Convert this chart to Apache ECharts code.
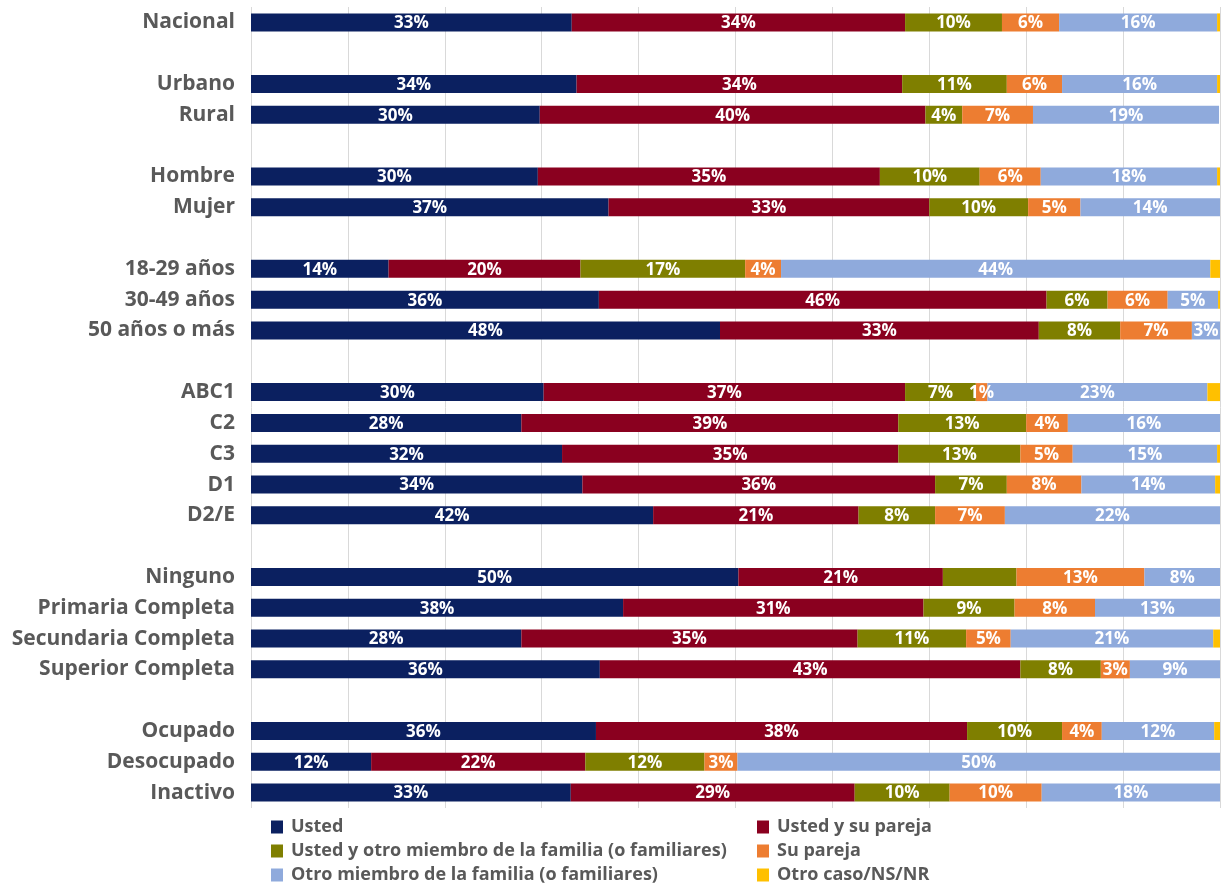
<!DOCTYPE html>
<html>
<head>
<meta charset="utf-8">
<script src="https://cdn.jsdelivr.net/npm/echarts@6/dist/echarts.min.js"></script>
<style>
html,body{margin:0;padding:0;background:#fff;}
#chart{width:1230px;height:886px;}
</style>
</head>
<body>
<div id="chart"></div>
<script>
// Categories (blank strings are spacer rows between groups)
const categories = ['Nacional',' ','Urbano','Rural','  ','Hombre','Mujer','   ','18-29 años','30-49 años','50 años o más','    ','ABC1','C2','C3','D1','D2/E','     ','Ninguno','Primaria Completa','Secundaria Completa','Superior Completa','      ','Ocupado','Desocupado','Inactivo'];

const seriesNames = ['Usted','Usted y su pareja','Usted y otro miembro de la familia (o familiares)','Su pareja','Otro miembro de la familia (o familiares)','Otro caso/NS/NR'];

// Values (%) per series, in category order (null = spacer row)
const usted         = [33.1,null,33.6,29.8,null,29.6,36.9,null,14.2,35.9,48.4,null,30.2,27.9,32.1,34.2,41.5,null,50.3,38.4,27.9,36.0,null,35.6,12.4,33.0];
const ustedPareja   = [34.4,null,33.6,39.8,null,35.3,33.1,null,19.8,46.2,32.9,null,37.3,38.9,34.7,36.4,21.2,null,21.1,31.0,34.7,43.4,null,38.3,22.1,29.3];
const ustedFamilia  = [10.0,null,10.8,3.8,null,10.3,10.2,null,17.0,6.3,8.4,null,7.3,13.2,12.6,7.4,7.9,null,7.6,9.4,11.2,8.3,null,9.8,12.3,9.8];
const suPareja      = [5.9,null,5.7,7.3,null,6.3,5.4,null,3.7,6.2,7.4,null,1.2,4.3,5.4,7.7,7.2,null,13.2,8.3,4.6,3.0,null,4.1,3.4,9.5];
const otroMiembro   = [16.3,null,16.0,19.2,null,18.2,14.4,null,44.3,5.2,2.9,null,22.7,15.7,14.9,13.8,22.2,null,7.8,12.9,20.9,9.3,null,11.6,49.8,18.4];
const otroCaso      = [0.3,null,0.3,0,null,0.4,0,null,1.0,0.2,0,null,1.3,0,0.3,0.5,0,null,0,0,0.7,0,null,0.6,0,0];

// Segments whose value label is not printed in the original
const hiddenLabels = [[2,'Ninguno']];

// Legend layout: order of items per column
const legendLeftColumn = [0, 2, 4];
const legendRightColumn = [1, 3, 5];

const colors = ['#0b2060','#8a001f','#7f7f00','#ed7d31','#8faadc','#ffc000'];
const allValues = [usted, ustedPareja, ustedFamilia, suPareja, otroMiembro, otroCaso];

const FONT = '"Open Sans", sans-serif';

const series = allValues.map((vals, si) => ({
  name: seriesNames[si],
  type: 'bar',
  stack: 'total',
  barWidth: 18,
  itemStyle: { color: colors[si] },
  label: {
    show: si < 5,
    position: 'inside',
    color: '#ffffff',
    fontFamily: FONT,
    fontWeight: 'bold',
    fontSize: 17,
    offset: [0, 1],
    formatter: p => (p.value == null ? '' : Math.round(p.value) + '%')
  },
  data: vals.map((v, ci) => {
    const hide = hiddenLabels.some(h => h[0] === si && h[1] === categories[ci]);
    return hide ? { value: v, label: { show: false } } : v;
  })
}));

const legends = [];
[[legendLeftColumn, 266], [legendRightColumn, 752]].forEach(([col, left]) => {
  col.forEach((si, row) => {
    legends.push({
      left: left, top: 813 + row * 24,
      itemWidth: 12, itemHeight: 13, icon: 'rect',
      data: [seriesNames[si]],
      selectedMode: false,
      textStyle: { color: '#595959', fontFamily: FONT, fontWeight: 'bold', fontSize: 18, padding: [0,0,0,3] }
    });
  });
});

const chart = echarts.init(document.getElementById('chart'), null, { renderer: 'canvas' });
chart.setOption({
  animation: false,
  color: colors,
  grid: { left: 251, right: 10, top: 7, bottom: 78, containLabel: false },
  xAxis: {
    type: 'value', min: 0, max: 100, interval: 10,
    axisLabel: { show: false }, axisLine: { show: false }, axisTick: { show: false },
    splitLine: { show: true, lineStyle: { color: '#d9d9d9', width: 1 } }
  },
  yAxis: {
    type: 'category', inverse: true, data: categories,
    axisLine: { show: false }, axisTick: { show: false },
    axisLabel: { color: '#595959', fontFamily: FONT, fontWeight: 'bold', fontSize: 21, margin: 16, padding: [4, 0, 0, 0] }
  },
  legend: legends,
  series: series
});
</script>
</body>
</html>
